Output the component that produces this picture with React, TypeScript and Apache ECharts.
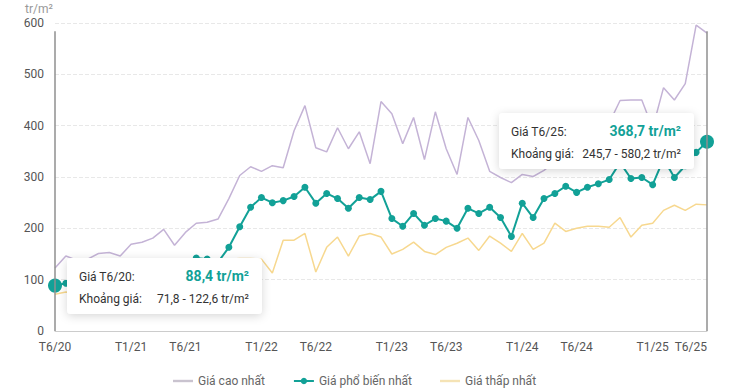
import React, { useEffect, useRef } from "react";
import * as echarts from "echarts";

const months: string[] = [
  "T6/20", "T7/20", "T8/20", "T9/20", "T10/20", "T11/20", "T12/20",
  "T1/21", "T2/21", "T3/21", "T4/21", "T5/21", "T6/21", "T7/21", "T8/21", "T9/21", "T10/21", "T11/21", "T12/21",
  "T1/22", "T2/22", "T3/22", "T4/22", "T5/22", "T6/22", "T7/22", "T8/22", "T9/22", "T10/22", "T11/22", "T12/22",
  "T1/23", "T2/23", "T3/23", "T4/23", "T5/23", "T6/23", "T7/23", "T8/23", "T9/23", "T10/23", "T11/23", "T12/23",
  "T1/24", "T2/24", "T3/24", "T4/24", "T5/24", "T6/24", "T7/24", "T8/24", "T9/24", "T10/24", "T11/24", "T12/24",
  "T1/25", "T2/25", "T3/25", "T4/25", "T5/25", "T6/25",
];

const maxPrice: number[] = [
  122.6, 146, 138, 140, 151, 153, 146, 169, 173, 181,
  198, 167, 192, 210, 212, 218, 258, 303, 320, 311,
  322, 318, 390, 439, 357, 349, 396, 355, 388, 326,
  447, 423, 365, 416, 334, 427, 355, 305, 416, 371,
  311, 299, 289, 305, 301, 313, 330, 345, 352, 340,
  372, 405, 449, 450, 450, 395, 474, 450, 482, 596,
  580.2,
];

const commonPrice: number[] = [
  88.4, 93, 96, 101, 104, 108, 106, 112, 118, 121,
  127, 125, 133, 142, 140, 134, 163, 203, 241, 260,
  250, 254, 262, 280, 249, 268, 258, 239, 260, 256,
  272, 219, 204, 229, 206, 219, 214, 200, 239, 229,
  241, 221, 184, 249, 221, 258, 268, 282, 270, 280,
  287, 295, 328, 297, 299, 285, 335, 299, 322, 348,
  368.7,
];

const minPrice: number[] = [
  71.8, 76, 74, 81, 85, 83, 90, 96, 94, 101,
  106, 104, 115, 121, 129, 133, 140, 141, 141, 140,
  113, 177, 177, 190, 115, 163, 183, 146, 185, 190,
  183, 150, 159, 173, 155, 149, 163, 171, 181, 157,
  185, 171, 155, 190, 159, 171, 210, 194, 200, 204,
  204, 202, 221, 183, 206, 210, 235, 245, 235, 247,
  245.7,
];

const seriesNames = ["Giá cao nhất", "Giá phổ biến nhất", "Giá thấp nhất"];
const unit = "tr/m²";

const PURPLE = "#c4b3d6";
const TEAL = "#12a197";
const YELLOW = "#f7d88f";
const FONT = "Roboto";
const LINE_ICON = "path://M0,0 L20,0 L20,2.4 L0,2.4 Z";

const fmt = (v: number) => v.toFixed(1).replace(".", ",");

function tooltipBox(idx: number, left: number, top: number) {
  const w = 195;
  const h = 56;
  return {
    type: "group",
    left,
    top,
    z: 100,
    children: [
      {
        type: "rect",
        shape: { x: 0, y: 0, width: w, height: h, r: 4 },
        style: {
          fill: "#ffffff",
          shadowBlur: 10,
          shadowColor: "rgba(0,0,0,0.16)",
          shadowOffsetY: 2,
        },
        z: 100,
      },
      {
        type: "text",
        x: 12,
        y: 19,
        style: {
          text: `Giá ${months[idx]}:`,
          font: `12px ${FONT}`,
          fill: "#333",
          verticalAlign: "middle",
        },
        z: 101,
      },
      {
        type: "text",
        x: w - 13,
        y: 18,
        style: {
          text: `${fmt(commonPrice[idx])} ${unit}`,
          font: `bold 14px ${FONT}`,
          fill: TEAL,
          align: "right",
          verticalAlign: "middle",
        },
        z: 101,
      },
      {
        type: "text",
        x: 12,
        y: 41,
        style: {
          text: "Khoảng giá:",
          font: `12px ${FONT}`,
          fill: "#333",
          verticalAlign: "middle",
        },
        z: 101,
      },
      {
        type: "text",
        x: w - 13,
        y: 41,
        style: {
          text: `${fmt(minPrice[idx])} - ${fmt(maxPrice[idx])} ${unit}`,
          font: `12px ${FONT}`,
          fill: "#333",
          align: "right",
          verticalAlign: "middle",
        },
        z: 101,
      },
    ],
  };
}

export default function App() {
  const ref = useRef<HTMLDivElement>(null);

  useEffect(() => {
    if (!ref.current) return;
    const chart = echarts.init(ref.current, undefined, { renderer: "svg" });
    const last = months.length - 1;

    const option: any = {
      animation: false,
      textStyle: { fontFamily: FONT },
      grid: { left: 55, right: 25, top: 23, bottom: 59 },
      legend: {
        left: 168,
        top: 370,
        itemWidth: 20,
        itemHeight: 8,
        itemGap: 28,
        textStyle: { color: "#666", fontSize: 12, fontFamily: FONT },
        data: [
          { name: seriesNames[0], icon: LINE_ICON, itemStyle: { color: "#c9c3cf" } },
          { name: seriesNames[1] },
          { name: seriesNames[2], icon: LINE_ICON, itemStyle: { color: "#f5e3b5" } },
        ],
      },
      xAxis: {
        type: "category",
        data: months,
        boundaryGap: false,
        axisLine: { lineStyle: { color: "#cccccc" } },
        axisTick: { show: false },
        axisLabel: {
          color: "#555",
          fontSize: 12,
          fontFamily: FONT,
          margin: 10,
          alignMaxLabel: "right",
          interval: (i: number, v: string) => v.startsWith("T1/") || v.startsWith("T6/"),
        },
        splitLine: { show: false },
      },
      yAxis: {
        type: "value",
        min: 0,
        max: 600,
        interval: 100,
        axisLine: { show: false },
        axisTick: { show: false },
        axisLabel: { color: "#555", fontSize: 12, fontFamily: FONT, margin: 11 },
        splitLine: { lineStyle: { color: "#e8e8e8", type: "dashed" } },
      },
      graphic: [
        {
          type: "text",
          left: 25,
          top: 3,
          style: { text: unit, font: `12px ${FONT}`, fill: "#999" },
        },
        tooltipBox(0, 67, 258),
        tooltipBox(last, 499, 113),
      ],
      series: [
        {
          name: seriesNames[0],
          type: "line",
          data: maxPrice,
          symbol: "none",
          lineStyle: { color: PURPLE, width: 1.5 },
          itemStyle: { color: PURPLE },
          z: 2,
          markLine: {
            silent: true,
            symbol: "none",
            label: { show: false },
            lineStyle: { color: "#8f8f8f", width: 1.5, type: "solid" },
            data: [
              [{ coord: [months[0], 0] }, { coord: [months[0], 584] }],
              [{ coord: [months[last], 0] }, { coord: [months[last], 584] }],
            ],
          },
        },
        {
          name: seriesNames[1],
          type: "line",
          data: commonPrice.map((v, i) =>
            i === 0 || i === last ? { value: v, symbolSize: 14 } : v
          ),
          symbol: "circle",
          symbolSize: 7,
          showAllSymbol: true,
          lineStyle: { color: TEAL, width: 2 },
          itemStyle: { color: TEAL },
          z: 4,
        },
        {
          name: seriesNames[2],
          type: "line",
          data: minPrice,
          symbol: "none",
          lineStyle: { color: YELLOW, width: 1.5 },
          itemStyle: { color: YELLOW },
          z: 3,
        },
      ],
    };

    chart.setOption(option);
    return () => chart.dispose();
  }, []);

  return <div ref={ref} style={{ width: 732, height: 390, position: "absolute", left: 0, top: 0 }} />;
}
